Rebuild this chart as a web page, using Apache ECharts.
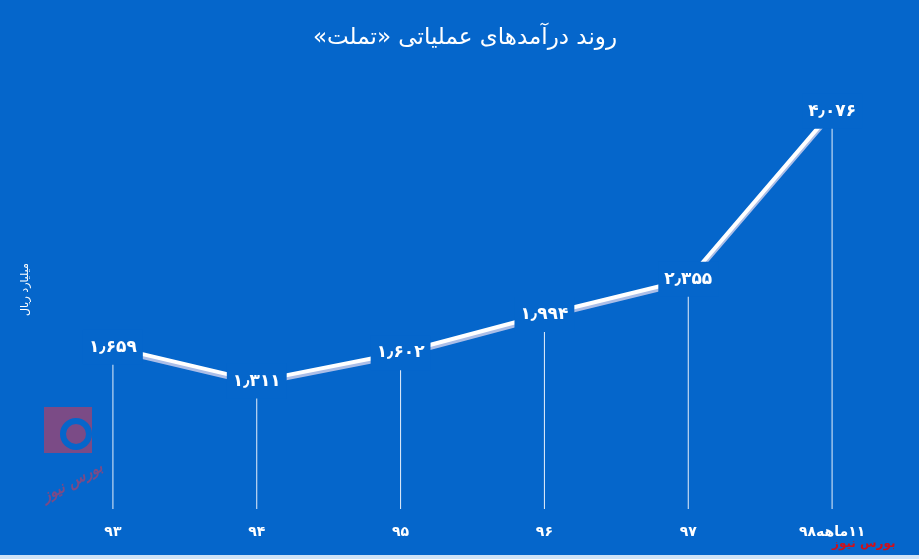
<!DOCTYPE html>
<html><head><meta charset="utf-8">
<script src="https://cdn.jsdelivr.net/npm/echarts@6/dist/echarts.min.js"></script>
<style>html,body{margin:0;padding:0;background:#0566cb}#c{width:919px;height:559px}</style>
</head><body><div id="c"></div>
<script>
const categories = ['۹۳', '۹۴', '۹۵', '۹۶', '۹۷', '۱۱ماهه۹۸'];
const values = [1659, 1311, 1602, 1994, 2355, 4076];
const titleText = 'روند درآمدهای عملیاتی «تملت»';
const unitText = 'میلیارد ریال';
const BG = '#0566cb';
const RLM = '\u200F';
const fa = n => String(n).replace(/\B(?=(\d{3})+(?!\d))/g, '٫').replace(/\d/g, d => '۰۱۲۳۴۵۶۷۸۹'[d]);
const chart = echarts.init(document.getElementById('c'));
chart.setOption({
  backgroundColor: BG,
  animation: false,
  title: { text: RLM + titleText + RLM, left: 460, top: 22, textAlign: 'center',
    textStyle: { color: '#fff', fontSize: 23, fontWeight: 'normal', fontFamily: 'DejaVu Sans' } },
  grid: { left: 41, right: 15, top: 70, bottom: 50 },
  xAxis: { type: 'category', data: categories, boundaryGap: true,
    axisLine: { show: false }, axisTick: { show: false },
    axisLabel: { color: '#fff', fontSize: 14, fontWeight: 'bold', fontFamily: 'DejaVu Sans', margin: 16,
      formatter: v => RLM + v } },
  yAxis: { type: 'value', min: 0, max: 4500, interval: 500,
    name: RLM + unitText + RLM, nameLocation: 'middle', nameGap: 10, nameRotate: 90,
    nameTextStyle: { color: '#fff', fontSize: 11, fontFamily: 'DejaVu Sans' },
    axisLine: { show: false }, axisTick: { show: false }, axisLabel: { show: false }, splitLine: { show: false } },
  graphic: [
    { type: 'rect', left: 44, top: 407, shape: { width: 48, height: 46 }, style: { fill: '#7b4b86' }, z: 1 },
    { type: 'circle', left: 60, top: 418, shape: { r: 16 }, style: { fill: BG }, z: 2 },
    { type: 'circle', left: 66, top: 424, shape: { r: 10 }, style: { fill: '#7b4b86' }, z: 3 },
    { type: 'text', left: 40, top: 460, rotation: 0.5, style: { text: RLM + 'بورس نیوز', fill: '#7b4b86', font: 'italic bold 15px DejaVu Sans' }, z: 3 },
    { type: 'rect', left: 0, top: 555, shape: { width: 919, height: 4 }, style: { fill: '#cfe3f7' } },
    { type: 'text', left: 832, top: 538, style: { text: RLM + 'بورس نیوز', fill: '#d0101a', font: 'bold 12px DejaVu Sans' }, z: 5 }
  ],
  series: [
    { type: 'bar', data: values, barWidth: 1, itemStyle: { color: '#e8f0fb' }, z: 1, silent: true },
    { type: 'line', data: values, z: 5, symbol: 'circle', symbolSize: 2, showSymbol: true,
      itemStyle: { color: 'rgba(0,0,0,0)', borderWidth: 0 },
      lineStyle: { color: '#ffffff', width: 4, shadowColor: 'rgba(190,200,235,0.9)', shadowOffsetY: 3, shadowOffsetX: 0, shadowBlur: 0 },
      label: { show: true, position: 'inside', formatter: p => fa(p.value),
        color: '#fff', fontSize: 17, fontWeight: 'bold', fontFamily: 'DejaVu Sans',
        backgroundColor: BG, padding: [9, 6, 9, 6] } }
  ]
});
</script></body></html>
